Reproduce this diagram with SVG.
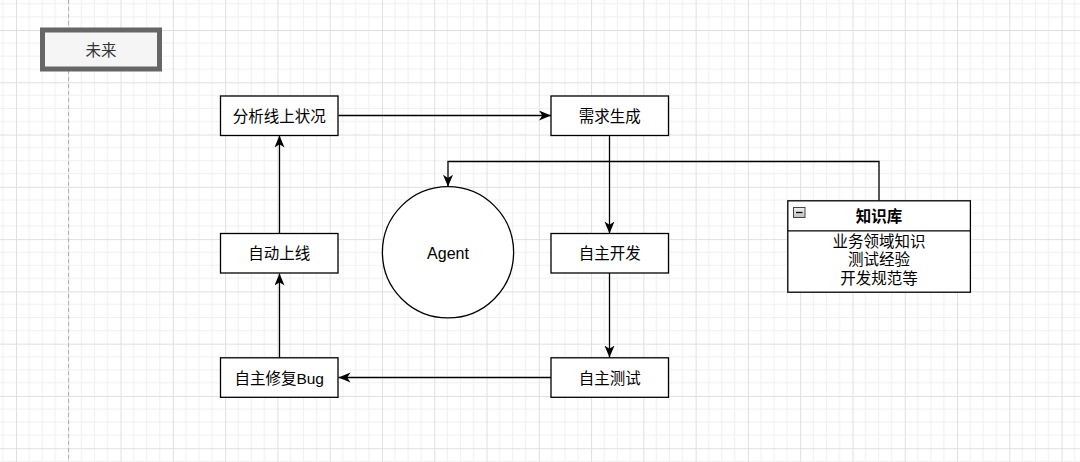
<svg xmlns="http://www.w3.org/2000/svg" width="1080" height="462" viewBox="0 0 1080 462">
  <style>
    .box { fill: #ffffff; stroke: #000000; stroke-width: 1.3; }
    .lbl { font-family: "Liberation Sans", "Noto Sans CJK SC", sans-serif; font-size: 15.5px; fill: #000000; text-anchor: middle; dominant-baseline: central; }
    .edge { fill: none; stroke: #000000; stroke-width: 1.3; }
  </style>
  <defs>
    <pattern id="grid" patternUnits="userSpaceOnUse" x="16" y="30" width="52.28" height="52.28">
      <path d="M13.07,0 V52.28 M26.14,0 V52.28 M39.21,0 V52.28 M0,13.07 H52.28 M0,26.14 H52.28 M0,39.21 H52.28" stroke="#f0f0f0" stroke-width="1" fill="none"/>
      <path d="M0.5,0 V52.28 M0,0.5 H52.28" stroke="#dfdfdf" stroke-width="1" fill="none"/>
    </pattern>
    <marker id="arrow" markerUnits="userSpaceOnUse" markerWidth="13" markerHeight="11" refX="12" refY="5" orient="auto">
      <path d="M0,0 L12,5 L0,10 L3.3,5 Z" fill="#000000"/>
    </marker>
    <linearGradient id="minusGrad" x1="0" y1="0" x2="0" y2="1">
      <stop offset="0" stop-color="#f2f2f2"/>
      <stop offset="1" stop-color="#bdbdbd"/>
    </linearGradient>
  </defs>

  <rect x="0" y="0" width="1080" height="462" fill="#ffffff"/>
  <rect x="0" y="0" width="1080" height="462" fill="url(#grid)"/>
  <line x1="68.5" y1="0" x2="68.5" y2="462" stroke="#b3b3b3" stroke-width="1" stroke-dasharray="4 3"/>

  <g id="future">
    <rect x="42.5" y="30" width="117" height="39" fill="#f5f5f5" stroke="#666666" stroke-width="5"/>
    <text class="lbl" x="101" y="50" style="fill:#333333">未来</text>
  </g>

  <g id="connectors">
    <path class="edge" d="M338.5,115.5 H551" marker-end="url(#arrow)"/>
    <path class="edge" d="M609.5,135.5 V233.5" marker-end="url(#arrow)"/>
    <path class="edge" d="M609.5,272.5 V357.5" marker-end="url(#arrow)"/>
    <path class="edge" d="M551,377.5 H338.5" marker-end="url(#arrow)"/>
    <path class="edge" d="M279.5,357.5 V273.5" marker-end="url(#arrow)"/>
    <path class="edge" d="M279.5,233.5 V135.5" marker-end="url(#arrow)"/>
    <path class="edge" d="M879,200.5 V161.5 H448 V186.7" marker-end="url(#arrow)"/>
  </g>

  <g id="analyze">
    <rect class="box" x="220.5" y="96" width="117.5" height="39.5"/>
    <text class="lbl" x="279.2" y="116.3">分析线上状况</text>
  </g>
  <g id="requirement">
    <rect class="box" x="551" y="96" width="117.5" height="39.5"/>
    <text class="lbl" x="609.7" y="116.3">需求生成</text>
  </g>
  <g id="deploy">
    <rect class="box" x="220.5" y="233.5" width="117.5" height="39.5"/>
    <text class="lbl" x="279.2" y="253.8">自动上线</text>
  </g>
  <g id="develop">
    <rect class="box" x="551" y="233.5" width="117.5" height="39.5"/>
    <text class="lbl" x="609.7" y="253.8">自主开发</text>
  </g>
  <g id="fixbug">
    <rect class="box" x="220.5" y="357.8" width="117.5" height="39.5"/>
    <text class="lbl" x="279.2" y="378.1">自主修复Bug</text>
  </g>
  <g id="test">
    <rect class="box" x="551" y="357.8" width="117.5" height="39.5"/>
    <text class="lbl" x="609.7" y="378.1">自主测试</text>
  </g>

  <g id="agent">
    <circle cx="448" cy="252.3" r="65.6" fill="#ffffff" stroke="#000000" stroke-width="1.3"/>
    <text class="lbl" x="448" y="253" style="font-size:16px">Agent</text>
  </g>

  <g id="knowledge">
    <rect class="box" x="787.8" y="200.8" width="182.6" height="91.4"/>
    <line x1="787.8" y1="230.8" x2="970.4" y2="230.8" stroke="#000000" stroke-width="1.3"/>
    <rect x="793.5" y="207.5" width="11.5" height="10" fill="url(#minusGrad)" stroke="#444444" stroke-width="1"/>
    <line x1="796" y1="212.5" x2="802.5" y2="212.5" stroke="#000000" stroke-width="1.3"/>
    <text class="lbl" x="879" y="216.3" font-weight="bold">知识库</text>
    <text class="lbl" x="879" y="241">业务领域知识</text>
    <text class="lbl" x="879" y="259.5">测试经验</text>
    <text class="lbl" x="879" y="278">开发规范等</text>
  </g>
</svg>
